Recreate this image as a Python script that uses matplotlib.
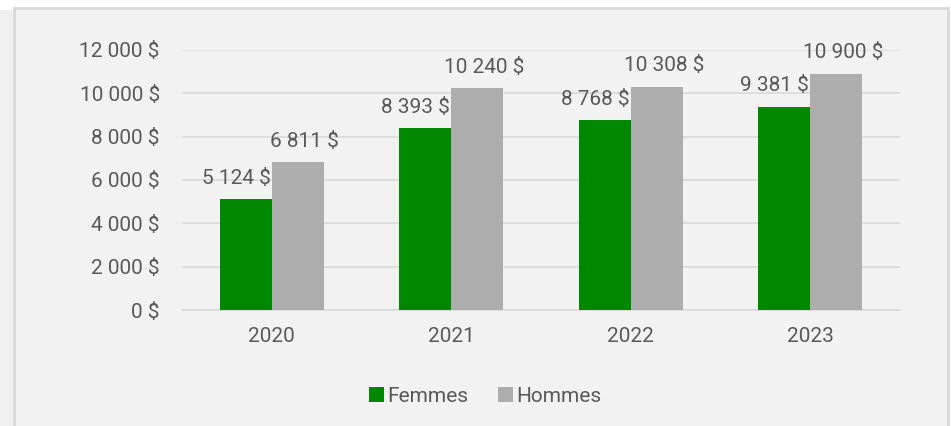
import matplotlib.pyplot as plt
import matplotlib.patches as mpatches
import numpy as np

annees = ['2020', '2021', '2022', '2023']
femmes = [5124, 8393, 8768, 9381]
hommes = [6811, 10240, 10308, 10900]
etiq_f = ['5 124 $', '8 393 $', '8 768 $', '9 381 $']
etiq_h = ['6 811 $', '10 240 $', '10 308 $', '10 900 $']
graduations = [0, 2000, 4000, 6000, 8000, 10000, 12000]
etiq_grad = ['0 $', '2 000 $', '4 000 $', '6 000 $', '8 000 $', '10 000 $', '12 000 $']

plt.rcParams['font.family'] = ['Roboto', 'DejaVu Sans']
gris_txt = '#595959'
vert = '#008800'
gris = '#ADADAD'
fs = 15

fig = plt.figure(figsize=(9.51, 4.26), dpi=100, facecolor='white')

# fond du cadre
fig.patches.append(mpatches.Rectangle((0, 0), 13/951, 416/426, transform=fig.transFigure,
                                      facecolor='#efefef', edgecolor='none', zorder=-2))
fig.patches.append(mpatches.Rectangle((13.5/951, -0.01), 934/951, 418/426 + 0.01,
                                      transform=fig.transFigure, facecolor='#f2f2f2',
                                      edgecolor='#d9d9d9', linewidth=2, zorder=-1))

ax = fig.add_axes([182/951, 116/426, 718/951, 260/426])
ax.set_zorder(2)
ax.set_facecolor('none')

x = np.arange(len(annees))
w = 0.29
b1 = ax.bar(x - w/2, femmes, w, color=vert, label='Femmes', zorder=3)
b2 = ax.bar(x + w/2, hommes, w, color=gris, label='Hommes', zorder=3)

for i in range(len(annees)):
    ax.annotate(etiq_f[i], (x[i] - w/2, femmes[i]), xytext=(-7, 15), textcoords='offset points',
                ha='center', va='center', fontsize=fs, color=gris_txt)
    ax.annotate(etiq_h[i], (x[i] + w/2, hommes[i]), xytext=(5, 15), textcoords='offset points',
                ha='center', va='center', fontsize=fs, color=gris_txt)

ax.set_xlim(-0.5, 3.5)
ax.set_ylim(0, 12000)
ax.set_yticks(graduations)
ax.set_yticklabels(etiq_grad)
ax.set_xticks(x)
ax.set_xticklabels(annees)
ax.tick_params(axis='both', length=0, labelsize=fs, labelcolor=gris_txt)
ax.tick_params(axis='y', pad=16)
ax.tick_params(axis='x', pad=12)
ax.grid(axis='y', color='#d9d9d9', linewidth=1.2, zorder=0)
for s in ['top', 'right', 'left']:
    ax.spines[s].set_visible(False)
ax.spines['bottom'].set_color('#d9d9d9')
ax.spines['bottom'].set_linewidth(1.2)

fig.legend(handles=[b1, b2], loc='center', bbox_to_anchor=(485/951, 1 - 396/426), ncol=2,
           frameon=False, fontsize=fs, labelcolor=gris_txt, handlelength=0.75, handleheight=0.75,
           handletextpad=0.15, columnspacing=1.4)

fig.savefig('out.png', dpi=100, facecolor='white')
